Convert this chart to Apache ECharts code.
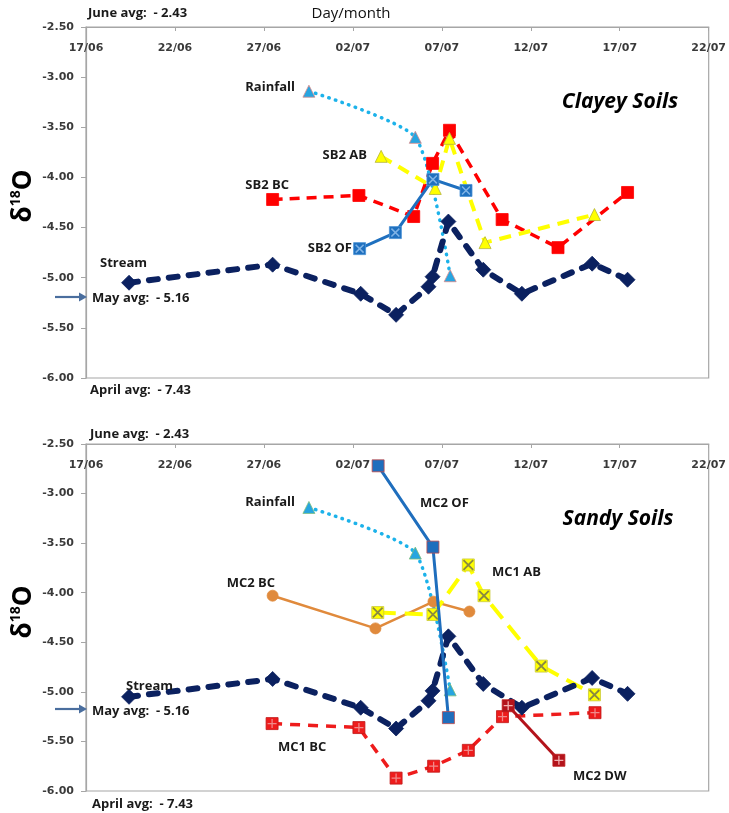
<!DOCTYPE html>
<html>
<head>
<meta charset="utf-8">
<script src="https://cdn.jsdelivr.net/npm/echarts@6/dist/echarts.min.js"></script>
<style>
  html, body { margin: 0; padding: 0; background: #fff; }
  #chart { width: 729px; height: 813px; }
</style>
</head>
<body>
<div id="chart"></div>
<script>
// x values are days counted from 17/06 (00:00)
const xTickLabels = ['17/06', '22/06', '27/06', '02/07', '07/07', '12/07', '17/07', '22/07'];

// Shared by both panels
const streamDays = [2.42, 10.49, 15.44, 17.43, 19.25, 19.48, 20.37, 22.33, 24.5, 28.45, 30.44];
const streamVals = [-5.05, -4.87, -5.16, -5.37, -5.09, -4.99, -4.44, -4.92, -5.16, -4.86, -5.02];
const rainDays = [12.53, 18.51, 20.47];
const rainVals = [-3.14, -3.60, -4.98];

// Clayey soils (SB2)
const sb2AbDays = [16.59, 19.63, 20.43, 22.43, 28.58];
const sb2AbVals = [-3.79, -4.11, -3.61, -4.65, -4.37];
const sb2BcDays = [10.49, 15.34, 18.42, 19.48, 20.43, 23.39, 26.53, 30.44];
const sb2BcVals = [-4.22, -4.18, -4.39, -3.86, -3.53, -4.42, -4.70, -4.15];
const sb2OfDays = [15.38, 17.39, 19.5, 21.36];
const sb2OfVals = [-4.71, -4.55, -4.02, -4.13];

// Sandy soils (MC1 / MC2)
const mc2OfDays = [16.42, 19.5, 20.37];
const mc2OfVals = [-2.72, -3.54, -5.26];
const mc2BcDays = [10.49, 16.27, 19.53, 21.55];
const mc2BcVals = [-4.03, -4.36, -4.09, -4.19];
const mc1AbDays = [16.4, 19.5, 21.49, 22.37, 25.59, 28.58];
const mc1AbVals = [-4.20, -4.22, -3.72, -4.03, -4.74, -5.03];
const mc1BcDays = [10.46, 15.34, 17.43, 19.54, 21.49, 23.41, 28.61];
const mc1BcVals = [-5.32, -5.36, -5.87, -5.75, -5.59, -5.25, -5.21];
const mc2DwDays = [23.73, 26.58];
const mc2DwVals = [-5.14, -5.69];

const pts = (days, vals) => days.map((d, i) => [d, vals[i]]);

const X_MARK = 'path://M0,1.2L1.2,0L10,8.8L8.8,10Z M8.8,0L10,1.2L1.2,10L0,8.8Z';
const PLUS_MARK = 'path://M4.3,0H5.7V10H4.3Z M0,4.3H10V5.7H0Z';

function line(panel, days, vals, o) {
  return {
    type: 'line',
    xAxisIndex: panel, yAxisIndex: panel,
    data: pts(days, vals),
    symbol: o.symbol, symbolSize: o.size,
    smooth: o.smooth || false,
    z: o.z || 3,
    itemStyle: { color: o.fill || o.color, borderColor: o.border || o.color, borderWidth: o.borderWidth || 0.8, opacity: 1 },
    lineStyle: { color: o.color, width: o.width, type: o.dash || 'solid', cap: o.cap || 'butt' },
    emphasis: { disabled: true },
    animation: false
  };
}
function overlay(panel, days, vals, symbol, size, color) {
  return {
    type: 'scatter', xAxisIndex: panel, yAxisIndex: panel,
    data: pts(days, vals), symbol: symbol, symbolSize: size, z: 6, silent: true,
    itemStyle: { color: color, opacity: 1 }, animation: false
  };
}

const tickFont = { fontFamily: 'DejaVu Sans', fontWeight: 'bold', fontSize: 11, color: '#3a3a3a' };

function xAxis(i) {
  return {
    gridIndex: i, type: 'value', position: 'top', min: 0, max: 35, interval: 5,
    axisLine: { show: true, lineStyle: { color: '#a6a6a6', width: 1.2 } },
    axisTick: { show: true, inside: true, length: 4, lineStyle: { color: '#a6a6a6' } },
    axisLabel: Object.assign({ inside: true, margin: 16, formatter: v => xTickLabels[Math.round(v / 5)] }, tickFont),
    splitLine: { show: false }
  };
}
function yAxis(i) {
  return {
    gridIndex: i, type: 'value', min: -6, max: -2.5, interval: 0.5,
    axisLine: { show: true, lineStyle: { color: '#a6a6a6', width: 1.2 } },
    axisTick: { show: true, length: 5, lineStyle: { color: '#a6a6a6' } },
    axisLabel: Object.assign({ margin: 12, formatter: v => v.toFixed(2) }, tickFont),
    splitLine: { show: false }
  };
}

const lblFont = { fontFamily: 'Open Sans', fontWeight: 'bold', fontSize: 13, fill: '#1a1a1a' };
function txt(x, y, s, align, extra) {
  return { type: 'text', x: x, y: y, z: 20,
    style: Object.assign({ text: s, textAlign: align || 'left', textVerticalAlign: 'middle' }, lblFont, extra || {}) };
}
function arrow(y) {
  return [
    { type: 'line', z: 20, shape: { x1: 55, y1: y, x2: 80, y2: y }, style: { stroke: '#4a6e9e', lineWidth: 2.2 } },
    { type: 'polygon', z: 20, shape: { points: [[79, y - 4.5], [87, y], [79, y + 4.5]] }, style: { fill: '#4a6e9e' } }
  ];
}
function deltaTitle(y) {
  return { type: 'text', x: 24, y: y, rotation: Math.PI / 2, z: 20,
    style: { text: '{a|δ}{b|18}{a|O}', textAlign: 'center', textVerticalAlign: 'middle',
      rich: {
        a: { fontFamily: 'Open Sans', fontWeight: 'bold', fontSize: 26, fill: '#000', lineHeight: 30 },
        b: { fontFamily: 'Open Sans', fontWeight: 'bold', fontSize: 14, fill: '#000', lineHeight: 30, verticalAlign: 'top', padding: [0, 0, 10, 0] }
      } } };
}
const avgFont = { fontWeight: 'bold', fontSize: 13 };
const soilFont = { fontWeight: 'bold', fontStyle: 'italic', fontSize: 21, fill: '#000', textAlign: 'center' };

const graphics = [
  txt(88, 13, 'June avg:  - 2.43', 'left', avgFont),
  txt(351, 14, 'Day/month', 'center', { fontWeight: 400, fontSize: 15, fill: '#111' }),
  txt(92, 298, 'May avg:  - 5.16', 'left', avgFont),
  txt(90, 390, 'April avg:  - 7.43', 'left', avgFont),
  txt(620, 102, 'Clayey Soils', 'center', soilFont),
  txt(295, 87, 'Rainfall', 'right'),
  txt(367, 155, 'SB2 AB', 'right'),
  txt(289, 185, 'SB2 BC', 'right'),
  txt(352, 248, 'SB2 OF', 'right'),
  txt(100, 263, 'Stream', 'left'),
  deltaTitle(196),

  txt(90, 434, 'June avg:  - 2.43', 'left', avgFont),
  txt(92, 711, 'May avg:  - 5.16', 'left', avgFont),
  txt(92, 804, 'April avg:  - 7.43', 'left', avgFont),
  txt(618, 519, 'Sandy Soils', 'center', soilFont),
  txt(295, 502, 'Rainfall', 'right'),
  txt(275, 583, 'MC2 BC', 'right'),
  txt(420, 503, 'MC2 OF', 'left'),
  txt(492, 572, 'MC1 AB', 'left'),
  txt(126, 686, 'Stream', 'left'),
  txt(278, 747, 'MC1 BC', 'left'),
  txt(573, 776, 'MC2 DW', 'left'),
  deltaTitle(612)
].concat(arrow(297), arrow(709));

const streamStyle = { symbol: 'diamond', size: 15, color: '#0b2160', width: 6, dash: [9, 11], cap: 'round', z: 4 };
const rainStyle = { symbol: 'triangle', size: 12, color: '#1cb2ea', fill: '#27a5e0', border: '#d98a8a', width: 3.5, dash: [0.5, 6.5], cap: 'round', smooth: 0.2, z: 3 };

const series = [
  // Clayey panel
  line(0, sb2BcDays, sb2BcVals, { symbol: 'rect', size: 12, color: '#ff0000', width: 3.5, dash: [10, 7] }),
  line(0, sb2AbDays, sb2AbVals, { symbol: 'triangle', size: 12, color: '#ffff00', border: '#b5b53a', width: 4, dash: [12, 8] }),
  line(0, rainDays, rainVals, rainStyle),
  line(0, streamDays, streamVals, streamStyle),
  line(0, sb2OfDays, sb2OfVals, { symbol: 'rect', size: 12, color: '#1f70bf', border: '#4b93d6', width: 3, z: 5 }),
  overlay(0, sb2OfDays, sb2OfVals, X_MARK, 9, '#7fb3e6'),

  // Sandy panel
  line(1, mc2BcDays, mc2BcVals, { symbol: 'circle', size: 11, color: '#e08a3c', width: 2.5 }),
  line(1, mc1AbDays, mc1AbVals, { symbol: 'rect', size: 12, color: '#ffff00', border: '#c9c93a', width: 4, dash: [18, 9] }),
  overlay(1, mc1AbDays, mc1AbVals, X_MARK, 11, '#8a8a40'),
  line(1, rainDays, rainVals, Object.assign({}, rainStyle, { border: '#7fbf7f' })),
  line(1, streamDays, streamVals, streamStyle),
  line(1, mc1BcDays, mc1BcVals, { symbol: 'rect', size: 12, color: '#ee1c1c', border: '#c01818', width: 3.5, dash: [10, 8], z: 4 }),
  overlay(1, mc1BcDays, mc1BcVals, PLUS_MARK, 9, '#f08a8a'),
  line(1, mc2DwDays, mc2DwVals, { symbol: 'rect', size: 12, color: '#b3131b', border: '#c02020', width: 3, z: 5 }),
  overlay(1, mc2DwDays, mc2DwVals, PLUS_MARK, 9, '#f2b0b0'),
  line(1, mc2OfDays, mc2OfVals, { symbol: 'rect', size: 12, color: '#1f6ebd', border: '#c04a4a', width: 3, z: 5 })
];

const chart = echarts.init(document.getElementById('chart'), null, { renderer: 'canvas' });
chart.setOption({
  backgroundColor: '#ffffff',
  animation: false,
  textStyle: { fontFamily: 'Open Sans' },
  grid: [
    { left: 86, right: 17, top: 27, height: 351, show: true, borderColor: '#a6a6a6', borderWidth: 1.2, backgroundColor: 'transparent' },
    { left: 86, right: 17, top: 444, height: 347, show: true, borderColor: '#a6a6a6', borderWidth: 1.2, backgroundColor: 'transparent' }
  ],
  xAxis: [xAxis(0), xAxis(1)],
  yAxis: [yAxis(0), yAxis(1)],
  series: series,
  graphic: graphics
});
</script>
</body>
</html>
